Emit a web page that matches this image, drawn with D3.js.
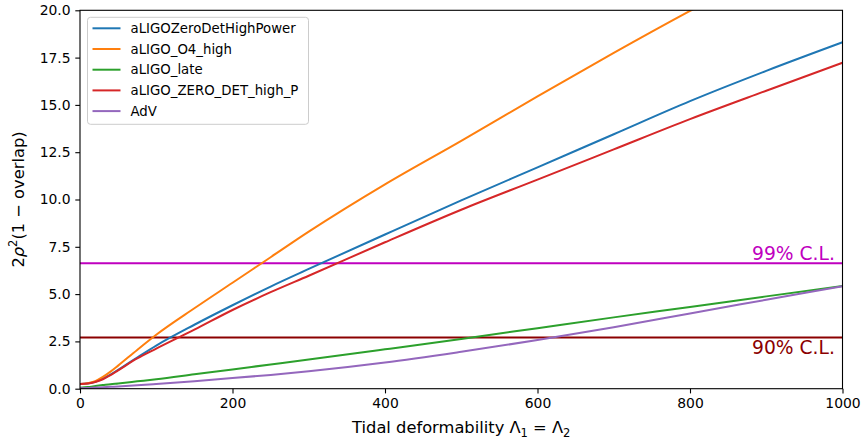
<!DOCTYPE html>
<html>
<head>
<meta charset="utf-8">
<script src="https://cdn.jsdelivr.net/npm/d3@7/dist/d3.min.js"></script>
<style>
  html, body { margin: 0; padding: 0; background: #fff; }
  svg text { font-family: "DejaVu Sans", sans-serif; }
</style>
</head>
<body>
<svg id="chart" width="862" height="445"></svg>
<script>
// ---- data ----
const lambdaValues = [0, 10, 20, 30, 40, 50, 75, 100, 150, 200, 250, 300, 400, 500, 600, 700, 800, 900, 1000];
const seriesNames = ["aLIGOZeroDetHighPower", "aLIGO_O4_high", "aLIGO_late", "aLIGO_ZERO_DET_high_P", "AdV"];
const zeroDetHighPower = [0.25, 0.28, 0.37, 0.53, 0.75, 1.0, 1.65, 2.28, 3.38, 4.41, 5.4, 6.33, 8.15, 9.95, 11.7, 13.45, 15.2, 16.8, 18.31];
const o4High = [0.25, 0.29, 0.4, 0.62, 0.9, 1.22, 2.05, 2.85, 4.25, 5.6, 6.95, 8.3, 10.8, 13.1, 15.45, 17.75, 19.97, 22.1, 24.2];
const late = [0.05, 0.09, 0.14, 0.19, 0.24, 0.28, 0.39, 0.5, 0.76, 1.02, 1.28, 1.54, 2.08, 2.63, 3.2, 3.77, 4.32, 4.88, 5.43];
const zeroDetHighP = [0.25, 0.27, 0.35, 0.5, 0.72, 0.97, 1.6, 2.12, 3.12, 4.16, 5.1, 5.97, 7.74, 9.46, 11.05, 12.65, 14.25, 15.75, 17.23];
const adv = [0.03, 0.04, 0.06, 0.08, 0.1, 0.12, 0.18, 0.25, 0.4, 0.56, 0.73, 0.92, 1.38, 1.95, 2.57, 3.25, 3.98, 4.7, 5.42];
const seriesValues = [zeroDetHighPower, o4High, late, zeroDetHighP, adv];
const seriesColors = ["#1f77b4", "#ff7f0e", "#2ca02c", "#d62728", "#9467bd"];
const thresholdValues = [6.635, 2.706];
const thresholdLabels = ["99% C.L.", "90% C.L."];
const thresholdColors = ["#bf00bf", "#8b0000"];
const xTicks = [0, 200, 400, 600, 800, 1000];
const yTicks = [0, 2.5, 5, 7.5, 10, 12.5, 15, 17.5, 20];

// ---- layout ----
const margin = { left: 80, right: 19.5, top: 10.3, bottom: 56.3 };
const W = 862, H = 445;
const iw = W - margin.left - margin.right;
const ih = H - margin.top - margin.bottom;

const svg = d3.select("#chart");
const g = svg.append("g").attr("transform", `translate(${margin.left},${margin.top})`);

const x = d3.scaleLinear().domain([0, 1000]).range([0, iw]);
const y = d3.scaleLinear().domain([0, 20]).range([ih, 0]);

svg.append("defs").append("clipPath").attr("id", "clip")
  .append("rect").attr("x", 0).attr("y", 0).attr("width", iw).attr("height", ih);

const plot = g.append("g").attr("clip-path", "url(#clip)");

// threshold lines
thresholdValues.forEach((v, i) => {
  plot.append("line")
    .attr("x1", 0).attr("x2", iw)
    .attr("y1", y(v)).attr("y2", y(v))
    .attr("stroke", thresholdColors[i]).attr("stroke-width", 2);
});

// series lines
const line = d3.line()
  .x((d, i) => x(lambdaValues[i]))
  .y(d => y(d))
  .curve(d3.curveMonotoneX);

seriesValues.forEach((vals, i) => {
  plot.append("path")
    .datum(vals)
    .attr("d", line)
    .attr("fill", "none")
    .attr("stroke", seriesColors[i])
    .attr("stroke-width", 2)
    .attr("stroke-linejoin", "round")
    .attr("stroke-linecap", "square");
});

// threshold labels
g.append("text")
  .attr("x", x(990)).attr("y", y(thresholdValues[0]) - 3)
  .attr("text-anchor", "end")
  .attr("font-size", 18.7)
  .attr("fill", thresholdColors[0])
  .text(thresholdLabels[0]);
g.append("text")
  .attr("x", x(990)).attr("y", y(thresholdValues[1]) + 17)
  .attr("text-anchor", "end")
  .attr("font-size", 18.7)
  .attr("fill", thresholdColors[1])
  .text(thresholdLabels[1]);

// axes
const xAxis = d3.axisBottom(x).tickValues(xTicks).tickFormat(d3.format("d")).tickSizeOuter(0).tickSize(4.7).tickPadding(4.7);
const yAxis = d3.axisLeft(y).tickValues(yTicks).tickFormat(d3.format(".1f")).tickSizeOuter(0).tickSize(4.7).tickPadding(4.7);

const gx = g.append("g").attr("transform", `translate(0,${ih})`).call(xAxis);
const gy = g.append("g").call(yAxis);
[gx, gy].forEach(a => {
  a.select(".domain").remove();
  a.selectAll("line").attr("stroke", "#000").attr("stroke-width", 1.1);
  a.selectAll("text").attr("font-size", 13.9).attr("fill", "#000")
    .attr("font-family", "DejaVu Sans");
});

// frame
g.append("rect").attr("x", 0).attr("y", 0).attr("width", iw).attr("height", ih)
  .attr("fill", "none").attr("stroke", "#000").attr("stroke-width", 1.1);

// axis labels
const xl = svg.append("text")
  .attr("x", margin.left + iw / 2).attr("y", 433)
  .attr("text-anchor", "middle").attr("font-size", 16.3).attr("fill", "#000");
xl.append("tspan").text("Tidal deformability Λ");
xl.append("tspan").attr("font-size", 11.5).attr("dy", 4).text("1");
xl.append("tspan").attr("dy", -4).text(" = Λ");
xl.append("tspan").attr("font-size", 11.5).attr("dy", 4).text("2");

const yl = svg.append("text")
  .attr("transform", `translate(24,${margin.top + ih / 2}) rotate(-90)`)
  .attr("text-anchor", "middle").attr("font-size", 16.3).attr("fill", "#000");
yl.append("tspan").text("2");
yl.append("tspan").attr("font-style", "italic").text("ρ");
yl.append("tspan").attr("font-size", 11.5).attr("dy", -7).text("2");
yl.append("tspan").attr("dy", 7).text("(1 − overlap)");

// legend
const lg = g.append("g").attr("transform", "translate(7.5,7)");
lg.append("rect").attr("x", 0).attr("y", 0).attr("width", 221).attr("height", 107)
  .attr("rx", 3).attr("fill", "#fff").attr("fill-opacity", 0.8)
  .attr("stroke", "#cccccc").attr("stroke-width", 1);
seriesNames.forEach((name, i) => {
  const yy = 11 + i * 20.7;
  lg.append("line").attr("x1", 5).attr("x2", 33).attr("y1", yy).attr("y2", yy)
    .attr("stroke", seriesColors[i]).attr("stroke-width", 2);
  lg.append("text").attr("x", 43).attr("y", yy + 4.8)
    .attr("font-size", 13.3).attr("fill", "#000").text(name);
});
</script>
</body>
</html>
